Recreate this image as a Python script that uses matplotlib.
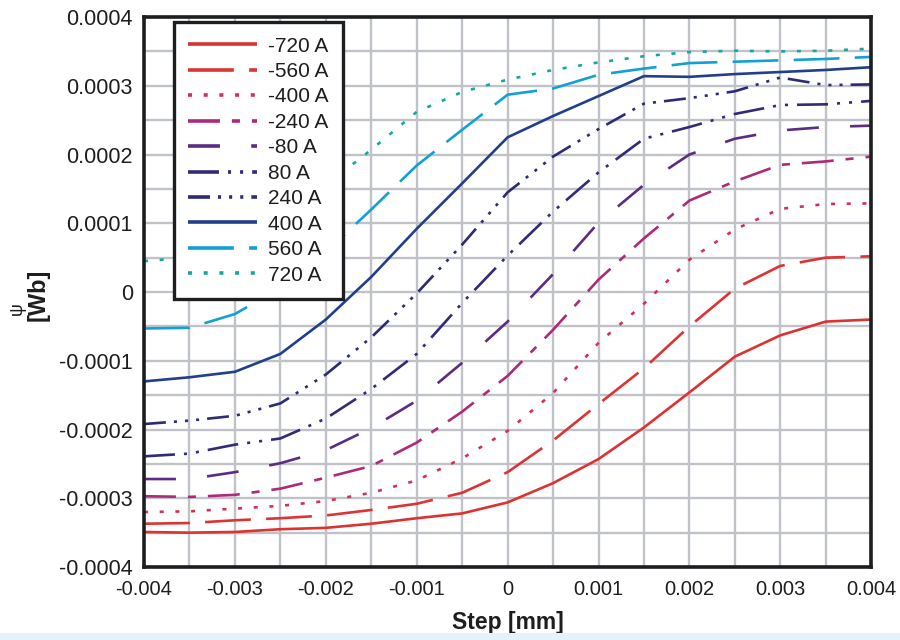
import numpy as np
import matplotlib
matplotlib.use("Agg")
import matplotlib.pyplot as plt
from matplotlib.patches import Rectangle

plt.rcParams['font.family'] = ['Liberation Sans', 'DejaVu Sans']
plt.rcParams['lines.scale_dashes'] = False

# rotor step positions [mm]
step_mm = [-0.004, -0.0035, -0.003, -0.0025, -0.002, -0.0015, -0.001, -0.0005,
           0.0, 0.0005, 0.001, 0.0015, 0.002, 0.0025, 0.003, 0.0035, 0.004]

# flux linkage per current, in units of 1e-4 Wb
psi_m720 = [-3.49, -3.50, -3.49, -3.45, -3.43, -3.37, -3.29, -3.22, -3.06,
            -2.78, -2.43, -1.97, -1.46, -0.94, -0.63, -0.43, -0.40]
psi_m560 = [-3.37, -3.36, -3.32, -3.29, -3.25, -3.17, -3.08, -2.92, -2.62,
            -2.16, -1.63, -1.11, -0.50, 0.05, 0.38, 0.50, 0.52]
psi_m400 = [-3.20, -3.19, -3.15, -3.11, -3.04, -2.92, -2.74, -2.42, -2.02,
            -1.47, -0.74, -0.17, 0.47, 0.91, 1.21, 1.28, 1.29]
psi_m240 = [-2.97, -2.98, -2.95, -2.86, -2.70, -2.53, -2.19, -1.74, -1.22,
            -0.55, 0.18, 0.78, 1.33, 1.61, 1.85, 1.90, 1.97]
psi_m80 = [-2.72, -2.72, -2.62, -2.49, -2.30, -1.98, -1.58, -1.03, -0.43,
           0.26, 1.01, 1.56, 2.00, 2.23, 2.35, 2.40, 2.42]
psi_p80 = [-2.39, -2.35, -2.22, -2.13, -1.84, -1.41, -0.90, -0.16, 0.53,
           1.17, 1.74, 2.23, 2.40, 2.59, 2.72, 2.73, 2.78]
psi_p240 = [-1.92, -1.87, -1.80, -1.62, -1.20, -0.66, -0.02, 0.69, 1.45,
            1.97, 2.37, 2.74, 2.82, 2.92, 3.12, 3.01, 3.02]
psi_p400 = [-1.30, -1.24, -1.16, -0.90, -0.40, 0.22, 0.92, 1.58, 2.25,
            2.56, 2.85, 3.14, 3.13, 3.17, 3.20, 3.23, 3.27]
psi_p560 = [-0.53, -0.52, -0.32, 0.06, 0.58, 1.20, 1.84, 2.36, 2.87,
            2.96, 3.16, 3.25, 3.33, 3.35, 3.37, 3.39, 3.42]
psi_p720 = [0.45, 0.50, 0.72, 1.08, 1.55, 2.07, 2.62, 2.91, 3.09,
            3.23, 3.34, 3.43, 3.49, 3.51, 3.50, 3.51, 3.54]

series_labels = ['-720 A', '-560 A', '-400 A', '-240 A', '-80 A',
                 '80 A', '240 A', '400 A', '560 A', '720 A']
series_values = [psi_m720, psi_m560, psi_m400, psi_m240, psi_m80,
                 psi_p80, psi_p240, psi_p400, psi_p560, psi_p720]

x_ticks = [-0.004, -0.003, -0.002, -0.001, 0.0, 0.001, 0.002, 0.003, 0.004]
x_tick_labels = ['-0.004', '-0.003', '-0.002', '-0.001', '0',
                 '0.001', '0.002', '0.003', '0.004']
y_ticks = [-0.0004, -0.0003, -0.0002, -0.0001, 0.0, 0.0001, 0.0002, 0.0003, 0.0004]
y_tick_labels = ['-0.0004', '-0.0003', '-0.0002', '-0.0001', '0',
                 '0.0001', '0.0002', '0.0003', '0.0004']

colors = ['#dd3232', '#dc3434', '#d42f58', '#ad2a78', '#5b2d82',
          '#332a78', '#2d2b76', '#223f8c', '#12a0d6', '#14a89e']
long_dash = (0, (33, 11))
dots = (0, (2.9, 8.4))
styles = ['-', long_dash, dots, (0, (23, 8.6, 5.8, 8.6)), (0, (23, 22.5)),
          (0, (22.3, 6.5, 2.2, 6.5, 2.2, 6.5)),
          (0, (15.8, 5.8, 2.2, 5.8, 2.2, 5.8, 2.2, 5.8)),
          '-', long_dash, dots]

fig = plt.figure(figsize=(9, 6.4), dpi=100, facecolor='white')
ax = fig.add_axes([0.16, 0.114, 0.808, 0.8594])
ax.set_facecolor('white')

x = np.array(step_mm)
for lab, vals, col, ls in zip(series_labels, series_values, colors, styles):
    ax.plot(x, np.array(vals) * 1e-4, color=col, linestyle=ls, linewidth=1.9,
            dash_capstyle='butt', solid_capstyle='butt', label=lab, zorder=3)

ax.set_xlim(-0.004, 0.004)
ax.set_ylim(-0.0004, 0.0004)
ax.set_xticks(x_ticks)
ax.set_xticklabels(x_tick_labels)
ax.set_yticks(y_ticks)
ax.set_yticklabels(y_tick_labels)
ax.set_xticks(np.arange(-0.004, 0.00401, 0.0005), minor=True)
ax.set_yticks(np.arange(-0.0004, 0.000401, 0.00005), minor=True)
ax.grid(True, which='both', color='#c1c2c8', linewidth=1.7, zorder=0)
ax.set_axisbelow(True)
ax.tick_params(which='both', length=0)
ax.tick_params(axis='x', pad=9, labelsize=14.5, colors='#1e1e1e')
ax.tick_params(axis='y', pad=8, labelsize=15.5, colors='#1e1e1e')
for s in ax.spines.values():
    s.set_color('#1c1e20')
    s.set_linewidth(2.6)
    s.set_zorder(5)

ax.set_xlabel('Step [mm]', fontsize=16.5, fontweight='bold', labelpad=9,
              color='#1e1e1e')
fig.text(0.042, 0.539, '[Wb]', rotation=90, fontsize=17, fontweight='bold',
         ha='center', va='center', color='#1e1e1e')
fig.text(0.019, 0.518, 'ψ', rotation=90, fontsize=13, ha='center', va='center',
         color='#1e1e1e')

leg = ax.legend(loc='upper left', bbox_to_anchor=(0.041, 0.991),
                borderaxespad=0, fontsize=15, handlelength=3.3,
                handletextpad=0.5, labelspacing=0.31, borderpad=0.7,
                fancybox=False, framealpha=1, edgecolor='#1c1e20',
                labelcolor='#1e1e1e')
leg.get_frame().set_linewidth(2.4)
for h in leg.get_lines():
    h.set_linewidth(2.6)
leg.set_zorder(6)

# pale strip along the bottom edge
fig.patches.append(Rectangle((0, 0), 1, 0.011, transform=fig.transFigure,
                             facecolor='#e4f3f9', edgecolor='none', zorder=0))

fig.savefig('out.png', dpi=100, facecolor=fig.get_facecolor())
